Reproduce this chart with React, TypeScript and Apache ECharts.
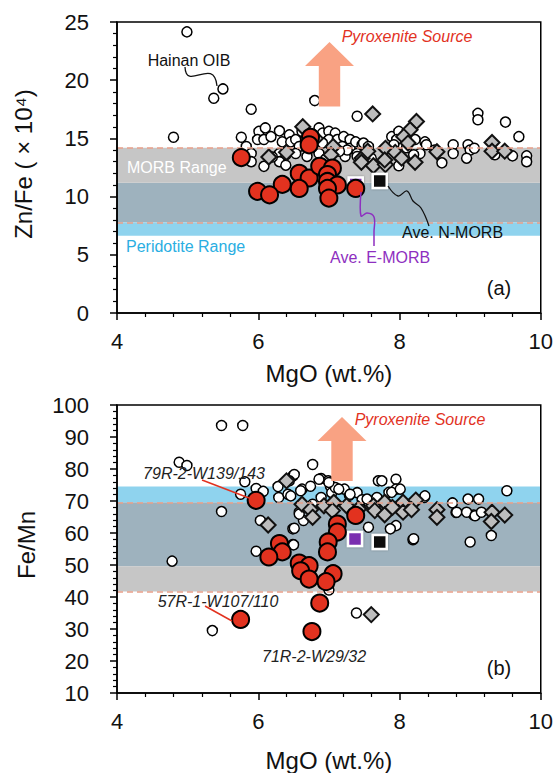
import React, { useEffect, useRef } from "react";
import * as echarts from "echarts";

const FONT = '"Liberation Sans", Arial, Helvetica, sans-serif';

// ---------- Panel (a): Zn/Fe x 10^4 vs MgO ----------
const topOpen: number[][] = [
  [4.99, 24.15], [5.5, 19.25], [5.37, 18.45], [5.9, 17.5], [6.8, 18.25], [4.8, 15.1],
  [5.76, 15.1], [6.01, 15.6], [5.99, 14.9], [6.08, 14.9], [5.83, 14.3], [5.9, 13.7],
  [5.9, 13.0], [6.3, 15.65], [6.44, 15.3], [6.34, 14.7], [6.46, 14.7], [6.53, 14.9],
  [6.3, 13.7], [6.39, 13.6], [6.3, 13.0], [6.08, 12.6], [6.39, 12.7], [6.58, 14.3],
  [6.53, 13.7], [6.86, 15.9], [6.91, 15.45], [7.0, 15.6], [7.09, 15.45], [7.0, 14.9],
  [7.12, 14.9], [7.21, 15.15], [7.3, 14.9], [6.91, 14.6], [7.09, 14.15], [7.19, 14.3],
  [7.3, 14.15], [7.38, 14.7], [7.47, 14.45], [7.4, 13.7], [7.52, 14.0], [7.23, 13.45],
  [6.69, 13.45], [6.86, 13.7], [7.4, 16.9], [7.49, 14.6], [7.56, 14.3], [7.26, 14.0],
  [7.4, 13.45], [7.89, 15.15], [7.99, 15.6], [7.96, 14.9], [7.92, 14.45], [8.22, 14.9],
  [8.36, 14.7], [8.38, 14.45], [8.29, 13.7], [8.2, 13.6], [7.99, 12.65], [8.6, 12.9],
  [8.76, 14.45], [8.76, 13.7], [8.97, 14.45], [9.0, 14.0], [8.95, 13.3], [9.06, 14.15],
  [9.11, 17.15], [9.11, 16.6], [9.5, 16.4], [9.69, 15.15], [9.8, 13.5], [9.8, 13.0],
  [9.6, 13.5], [6.1, 15.9], [6.18, 15.15], [6.62, 15.6], [6.7, 15.2], [6.95, 13.2],
  [7.15, 13.9], [7.6, 13.3], [8.1, 14.2], [8.5, 14.0], [9.35, 13.6], [6.2, 13.4]
];
const topDiamond: number[][] = [
  [6.63, 16.0], [6.81, 15.0], [6.15, 13.4], [6.4, 13.8], [7.06, 14.3], [7.03, 13.6],
  [7.47, 13.3], [7.62, 17.1], [8.24, 16.45], [8.15, 15.75], [8.06, 15.15], [8.12, 14.6],
  [7.8, 14.15], [7.94, 13.8], [7.46, 12.95], [7.63, 12.65], [7.8, 12.75], [8.03, 13.3],
  [8.22, 12.95], [8.53, 13.85], [9.31, 14.65], [9.31, 13.9], [9.49, 13.9], [7.79, 13.15],
  [7.55, 13.9]
];
const topRed: number[][] = [
  [5.76, 13.35], [6.74, 15.1], [6.72, 14.45], [6.58, 12.0], [6.72, 11.6], [6.87, 12.6],
  [7.05, 12.45], [6.98, 11.9], [6.98, 11.3], [7.12, 11.0], [6.98, 10.7], [7.0, 9.87],
  [6.58, 10.7], [6.34, 11.05], [5.99, 10.45], [6.16, 10.15], [7.38, 10.7]
];
const topEMORB: number[][] = [[7.38, 11.05]];
const topNMORB: number[][] = [[7.72, 11.35]];
const topMORBRange = [7.78, 14.2];
const topPeridotiteRange = [6.64, 11.2];

// ---------- Panel (b): Fe/Mn vs MgO ----------
const botOpen: number[][] = [
  [5.48, 93.6], [5.78, 93.6], [4.88, 82.1], [4.99, 81.1], [5.81, 76.0], [5.75, 72.1],
  [5.48, 66.7], [4.78, 51.2], [5.97, 73.9], [6.07, 73.0], [6.28, 74.5], [6.29, 71.1],
  [6.42, 72.1], [6.49, 77.8], [6.62, 73.7], [6.74, 74.6], [6.77, 81.4], [6.89, 77.0],
  [6.99, 76.3], [7.02, 74.7], [6.89, 71.1], [7.04, 72.6], [7.09, 74.2], [7.22, 73.7],
  [7.29, 71.8], [7.4, 72.6], [7.47, 70.4], [7.57, 69.0], [6.58, 66.5], [6.64, 63.9],
  [6.49, 61.3], [6.49, 56.4], [5.97, 54.3], [6.03, 63.9], [7.7, 76.3], [7.95, 76.8],
  [7.95, 73.7], [7.85, 72.7], [7.95, 62.3], [7.87, 61.3], [8.19, 57.9], [8.35, 71.1],
  [8.75, 69.4], [8.8, 66.4], [8.97, 70.6], [9.12, 70.6], [9.05, 65.6], [9.0, 57.2],
  [9.3, 59.2], [9.52, 73.2], [6.51, 78.3], [6.44, 76.3], [6.46, 71.6], [6.6, 73.2],
  [6.86, 76.8], [7.0, 75.8], [7.14, 73.7], [7.3, 72.1], [7.54, 70.6], [7.75, 76.3],
  [7.89, 72.7], [8.01, 73.7], [7.68, 71.1], [8.36, 71.6], [8.81, 66.5], [8.95, 66.5],
  [9.07, 65.4], [9.16, 66.5], [8.2, 58.2], [7.56, 61.8], [6.51, 61.5], [6.58, 65.9],
  [6.77, 69.0], [5.35, 29.5], [7.0, 42.2], [7.39, 35.0], [6.5, 56.3]
];
const botDiamond: number[][] = [
  [6.4, 76.3], [6.14, 62.5], [6.62, 69.0], [6.74, 67.3], [6.77, 64.9], [6.93, 68.5],
  [7.07, 69.6], [7.05, 67.0], [7.42, 67.5], [7.63, 68.5], [7.65, 67.0], [7.79, 69.6],
  [7.79, 65.7], [8.05, 69.6], [8.05, 66.5], [8.23, 70.3], [8.17, 67.3], [8.53, 67.3],
  [8.53, 64.9], [9.31, 66.5], [9.49, 65.6], [9.3, 63.6], [7.6, 34.5], [7.25, 68.5],
  [7.9, 68.0]
];
const botRed: number[][] = [
  [5.97, 70.2], [7.38, 65.5], [7.12, 62.8], [7.12, 60.3], [6.99, 57.2], [6.98, 54.1],
  [6.3, 56.7], [6.34, 54.1], [6.15, 52.5], [6.58, 50.6], [6.72, 49.8], [6.6, 48.2],
  [6.72, 45.6], [7.06, 47.3], [6.96, 44.8], [6.87, 38.1], [6.76, 29.2], [5.75, 33.0]
];
const botEMORB: number[][] = [[7.37, 58.1]];
const botNMORB: number[][] = [[7.72, 57.2]];
const botMORBRange = [41.7, 69.6];
const botPeridotiteRange = [49.6, 74.5];

// tick settings
const xMin = 4, xMax = 10, xInterval = 2;
const yTopMin = 0, yTopMax = 25, yTopInterval = 5;
const yBotMin = 10, yBotMax = 100, yBotInterval = 10;

const GRAY = "#c6c6c6";
const OVERLAP = "#9eb2be";
const LBLUE = "#8fd3ee";
const RED = "#e2321f";
const SALMON = "#f9a283";
const PURPLE = "#7a2fb0";

function bands(morb: number[], perid: number[]) {
  const lo = Math.max(morb[0], perid[0]);
  const hi = Math.min(morb[1], perid[1]);
  const areas: any[] = [];
  const push = (a: number, b: number, c: string) => {
    if (b > a) areas.push([{ yAxis: a, itemStyle: { color: c, opacity: 1 } }, { yAxis: b }]);
  };
  push(lo, hi, OVERLAP);
  if (morb[1] > hi) push(hi, morb[1], GRAY);
  if (morb[0] < lo) push(morb[0], lo, GRAY);
  if (perid[1] > hi) push(hi, perid[1], LBLUE);
  if (perid[0] < lo) push(perid[0], lo, LBLUE);
  return areas;
}

function xAxis(gridIndex: number, nameGap: number) {
  return {
    type: "value", gridIndex, min: xMin, max: xMax, interval: xInterval, z: 10,
    name: "MgO (wt.%)", nameLocation: "middle", nameGap,
    nameTextStyle: { fontSize: 24, color: "#111", fontFamily: FONT },
    axisLine: { show: true, onZero: false, lineStyle: { color: "#000", width: 1.5 } },
    axisTick: { show: true, length: 7, lineStyle: { color: "#000", width: 1.5 } },
    minorTick: { show: true, splitNumber: 5, length: 4, lineStyle: { color: "#000", width: 1.2 } },
    splitLine: { show: false },
    axisLabel: { fontSize: 22, color: "#111", margin: 17, fontFamily: FONT },
  };
}
function yAxis(gridIndex: number, min: number, max: number, interval: number, minorSplit: number) {
  return {
    type: "value", gridIndex, min, max, interval, z: 10,
    axisLine: { show: true, onZero: false, lineStyle: { color: "#000", width: 1.5 } },
    axisTick: { show: true, length: 7, lineStyle: { color: "#000", width: 1.5 } },
    minorTick: { show: true, splitNumber: minorSplit, length: 4, lineStyle: { color: "#000", width: 1.2 } },
    splitLine: { show: false },
    axisLabel: { fontSize: 22, color: "#111", margin: 28, fontFamily: FONT },
  };
}

function markerSeries(data: number[][], idx: number, kind: string) {
  const base: any = { type: "scatter", xAxisIndex: idx, yAxisIndex: idx, data, silent: true };
  if (kind === "open") {
    return { ...base, symbol: "circle", symbolSize: 10, z: 3,
      itemStyle: { color: "#fff", borderColor: "#000", borderWidth: 1.5, opacity: 1 } };
  }
  if (kind === "diamond") {
    return { ...base, symbol: "diamond", symbolSize: 15, z: 4,
      itemStyle: { color: "#bdbdbd", borderColor: "#111", borderWidth: 2, opacity: 1 } };
  }
  if (kind === "red") {
    return { ...base, symbol: "circle", symbolSize: 17, z: 6,
      itemStyle: { color: RED, borderColor: "#000", borderWidth: 2, opacity: 1 } };
  }
  if (kind === "emorb") {
    return { ...base, symbol: "rect", symbolSize: 14, z: 5,
      itemStyle: { color: PURPLE, borderColor: "#fff", borderWidth: 2.5, opacity: 1, shadowColor: "rgba(0,0,0,0.35)", shadowBlur: 2 } };
  }
  return { ...base, symbol: "rect", symbolSize: 14, z: 7,
    itemStyle: { color: "#0d0d0d", borderColor: "#fff", borderWidth: 2.5, opacity: 1, shadowColor: "rgba(0,0,0,0.35)", shadowBlur: 2 } };
}

function bandSeries(idx: number, morb: number[], perid: number[]) {
  return {
    type: "scatter", xAxisIndex: idx, yAxisIndex: idx, data: [], z: 1, silent: true,
    markArea: { silent: true, z: 1, data: bands(morb, perid) },
    markLine: {
      silent: true, symbol: ["none", "none"], label: { show: false },
      lineStyle: { color: "#e9a08a", type: [6, 4], width: 1.5 },
      data: [{ yAxis: morb[1] }, { yAxis: morb[0] }],
    },
  };
}

function txt(text: string, x: number, y: number, opts: any = {}) {
  return {
    type: "text", x, y, z: 50, rotation: opts.rotation || 0,
    style: {
      text, fontSize: opts.size || 16, fontFamily: FONT, fill: opts.color || "#111",
      fontStyle: opts.italic ? "italic" : "normal",
      align: opts.align || "center", verticalAlign: "middle",
    },
  };
}

function arrow(tipX: number, tipY: number, headHalf: number, headBaseY: number, shaftHalf: number, bottomY: number) {
  return {
    type: "polygon", z: 40,
    shape: {
      points: [
        [tipX, tipY], [tipX + headHalf, headBaseY], [tipX + shaftHalf, headBaseY],
        [tipX + shaftHalf, bottomY], [tipX - shaftHalf, bottomY], [tipX - shaftHalf, headBaseY],
        [tipX - headHalf, headBaseY],
      ],
    },
    style: { fill: SALMON },
  };
}

export default function App() {
  const ref = useRef<HTMLDivElement>(null);
  useEffect(() => {
    if (!ref.current) return;
    const chart = echarts.init(ref.current, null, { renderer: "svg" });
    const option: any = {
      animation: false,
      backgroundColor: "#fff",
      grid: [
        { left: 117, top: 22, width: 426, height: 291, show: true, borderColor: "#000", borderWidth: 1.5, backgroundColor: "transparent", z: 10 },
        { left: 117, top: 405, width: 426, height: 291, show: true, borderColor: "#000", borderWidth: 1.5, backgroundColor: "transparent", z: 10 },
      ],
      xAxis: [xAxis(0, 48), xAxis(1, 55)],
      yAxis: [
        yAxis(0, yTopMin, yTopMax, yTopInterval, 5),
        yAxis(1, yBotMin, yBotMax, yBotInterval, 5),
      ],
      series: [
        bandSeries(0, topMORBRange, topPeridotiteRange),
        markerSeries(topOpen, 0, "open"),
        markerSeries(topDiamond, 0, "diamond"),
        markerSeries(topEMORB, 0, "emorb"),
        markerSeries(topRed, 0, "red"),
        markerSeries(topNMORB, 0, "nmorb"),
        bandSeries(1, botMORBRange, botPeridotiteRange),
        markerSeries(botOpen, 1, "open"),
        markerSeries(botDiamond, 1, "diamond"),
        markerSeries(botEMORB, 1, "emorb"),
        markerSeries(botRed, 1, "red"),
        markerSeries(botNMORB, 1, "nmorb"),
      ],
      graphic: [
        txt("Zn/Fe ( × 10⁴)", 23, 164, { size: 24, rotation: Math.PI / 2 }),
        txt("Fe/Mn", 26, 545, { size: 24, rotation: Math.PI / 2 }),
        arrow(329.5, 42, 24.5, 66, 10.7, 106.5),
        txt("Pyroxenite Source", 407, 36, { italic: true, color: RED }),
        txt("Hainan OIB", 189, 60),
        {
          type: "bezierCurve", z: 40,
          shape: { x1: 185, y1: 67, cpx1: 186, cpy1: 92, cpx2: 214, cpy2: 56, x2: 217, y2: 86 },
          style: { stroke: "#111", lineWidth: 1.3, fill: "none" },
        },
        txt("MORB Range", 127, 167, { align: "left", color: "#fff" }),
        txt("Peridotite Range", 126, 246, { align: "left", color: "#2aaee2" }),
        {
          type: "polyline", z: 40,
          shape: { points: [[388, 186], [398, 196], [407, 191], [413, 201], [421, 208], [429, 226]], smooth: 0.4 },
          style: { stroke: "#111", lineWidth: 1.3, fill: "none" },
        },
        txt("Ave. N-MORB", 402, 232, { align: "left" }),
        {
          type: "polyline", z: 40,
          shape: { points: [[361, 192], [361, 216], [367, 213], [374, 217], [374, 232], [374, 246]], smooth: 0.35 },
          style: { stroke: "#8e2fc0", lineWidth: 1.5, fill: "none" },
        },
        txt("Ave. E-MORB", 330, 257, { align: "left", color: "#8e2fc0" }),
        txt("(a)", 499, 288, { size: 20 }),
        arrow(342, 417, 24.5, 441, 10.7, 481),
        txt("Pyroxenite Source", 420, 419, { italic: true, color: RED }),
        txt("79R-2-W139/143", 204, 473, { italic: true, color: "#222" }),
        { type: "line", z: 40, shape: { x1: 202, y1: 480, x2: 249, y2: 498 }, style: { stroke: RED, lineWidth: 1.5 } },
        txt("57R-1-W107/110", 218, 601, { italic: true, color: "#222" }),
        { type: "line", z: 40, shape: { x1: 205, y1: 606, x2: 232, y2: 621 }, style: { stroke: RED, lineWidth: 1.5 } },
        txt("71R-2-W29/32", 314, 656, { italic: true, color: "#222" }),
        txt("(b)", 499, 668, { size: 20 }),
      ],
    };
    chart.setOption(option);
    return () => chart.dispose();
  }, []);
  return (
    <div
      ref={ref}
      style={{ position: "fixed", left: 0, top: 0, width: 556, height: 773, background: "#fff" }}
    />
  );
}
